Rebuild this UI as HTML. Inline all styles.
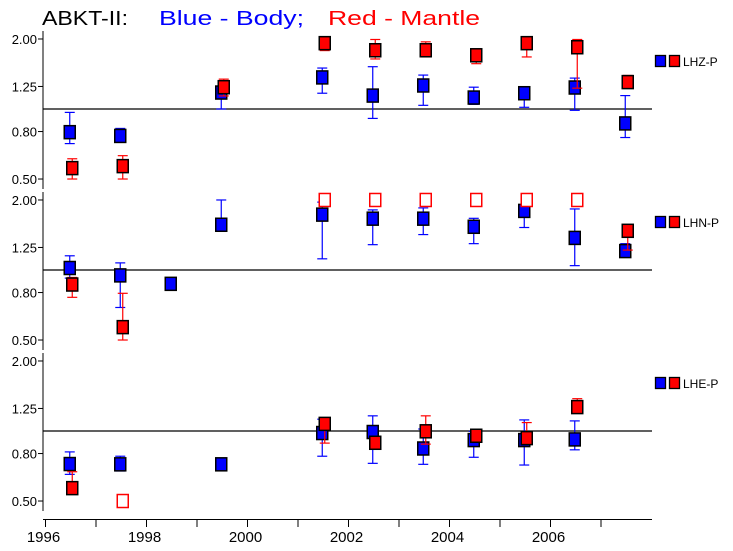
<!DOCTYPE html>
<html><head><meta charset="utf-8"><style>
body{margin:0;background:#fff;}
svg{display:block;font-family:"Liberation Sans",sans-serif;}
</style></head><body>
<svg id="chart" width="733" height="551" viewBox="0 0 733 551">
<g font-size="20">
<text x="42" y="25" fill="#000" textLength="86" lengthAdjust="spacingAndGlyphs">ABKT-II:</text>
<text x="159" y="25" fill="#0000ff" textLength="145" lengthAdjust="spacingAndGlyphs">Blue - Body;</text>
<text x="328" y="25" fill="#ff0000" textLength="152" lengthAdjust="spacingAndGlyphs">Red - Mantle</text>
</g>
<g id="plot"></g>
</svg>
<script>
const years=[1996.5,1997.5,1998.5,1999.5,2001.5,2002.5,2003.5,2004.5,2005.5,2006.5,2007.5];
const panelNames=["LHZ-P","LHN-P","LHE-P"];
const yTicks=[0.5,0.8,1.25,2.0];
const yTickLabels=["0.50","0.80","1.25","2.00"];
const xTicks=[1996,1997,1998,1999,2000,2001,2002,2003,2004,2005,2006,2007];
const xTickLabels=["1996","","1998","","2000","","2002","","2004","","2006",""];
// panel 1 LHZ-P
const zBlue=[0.795,0.766,null,1.177,1.367,1.142,1.262,1.12,1.169,1.237,0.867];
const zBlueLo=[0.71,0.734,null,1.0,1.169,0.911,1.037,1.047,1.017,0.987,0.754];
const zBlueHi=[0.967,0.825,null,1.241,1.5,1.52,1.399,1.241,1.229,1.358,1.142];
const zRed=[0.557,0.568,null,1.241,1.919,1.789,1.789,1.702,1.919,1.843,1.305];
const zRedLo=[0.5,0.5,null,1.138,1.783,1.641,1.674,1.566,1.674,1.229,1.241];
const zRedHi=[0.611,0.63,null,1.344,2.0,1.99,1.944,1.771,2.0,1.99,1.394];
const zRedOpen=[0,0,0,0,0,0,0,0,0,0,0];
// panel 2 LHN-P
const nBlue=[1.02,0.948,0.872,1.565,1.73,1.662,1.662,1.534,1.795,1.374,1.206];
const nBlueLo=[0.923,0.69,0.818,1.479,1.117,1.285,1.42,1.298,1.523,1.044,1.162];
const nBlueHi=[1.151,1.073,0.911,2.0,1.958,1.813,1.849,1.668,1.83,1.83,1.298];
const nRed=[0.866,0.568,null,null,2.0,2.0,2.0,2.0,2.0,2.0,1.474];
const nRedLo=[0.763,0.5,null,null,2.0,2.0,2.0,2.0,2.0,2.0,1.218];
const nRedHi=[0.929,0.794,null,null,2.0,2.0,2.0,2.0,2.0,2.0,1.539];
const nRedOpen=[0,0,0,0,1,1,1,1,1,1,0];
// panel 3 LHE-P
const eBlue=[0.721,0.719,null,0.719,0.98,0.99,0.841,0.914,0.914,0.92,null];
const eBlueLo=[0.651,0.673,null,0.686,0.779,0.726,0.719,0.771,0.714,0.83,null];
const eBlueHi=[0.813,0.779,null,0.756,1.124,1.162,1.02,0.997,1.116,1.105,null];
const eRed=[0.568,0.5,null,null,1.073,0.89,0.997,0.954,0.932,1.267,null];
const eRedLo=[0.568,0.5,null,null,0.887,0.89,0.878,0.92,0.89,1.267,null];
const eRedHi=[0.668,0.5,null,null,1.087,0.89,1.162,1.017,1.087,1.377,null];
const eRedOpen=[0,1,0,0,0,0,0,0,0,0,0];

const panels=[
 {mid:109,blue:zBlue,bLo:zBlueLo,bHi:zBlueHi,red:zRed,rLo:zRedLo,rHi:zRedHi,open:zRedOpen},
 {mid:270,blue:nBlue,bLo:nBlueLo,bHi:nBlueHi,red:nRed,rLo:nRedLo,rHi:nRedHi,open:nRedOpen},
 {mid:431,blue:eBlue,bLo:eBlueLo,bHi:eBlueHi,red:eRed,rLo:eRedLo,rHi:eRedHi,open:eRedOpen}
];
const NS="http://www.w3.org/2000/svg";
const g=document.getElementById("plot");
const X0=45.5,XS=50.5,XL=43,XR=652;
function xs(t){return X0+(t-1996)*XS;}
function mk(tag,attrs,parent){const e=document.createElementNS(NS,tag);for(const k in attrs)e.setAttribute(k,attrs[k]);(parent||g).appendChild(e);return e;}

panels.forEach((p,pi)=>{
 const ys=v=>p.mid-232.6*Math.log10(v);
 const ax=mk("line",{x1:XL,x2:XL,y1:ys(2.0)-8,y2:ys(0.5)+10,stroke:"#000","stroke-width":1});
 
 
 yTicks.forEach((v,i)=>{
  const y=ys(v);
  const t=mk("line",{x1:XL-5,x2:XL,y1:y,y2:y,stroke:"#000"});
  
  
  const l=mk("text",{x:XL-6,y:y+5,"text-anchor":"end","font-size":13,fill:"#000"});
  l.textContent=yTickLabels[i];
  
  
 });
 const ref=mk("line",{x1:XL,x2:XR,y1:ys(1),y2:ys(1),stroke:"#000","stroke-width":1.2});
 
 
 function series(vals,lo,hi,col,dx,open,name){
  years.forEach((yr,i)=>{
   if(vals[i]==null)return;
   const x=xs(yr)+dx, y=ys(vals[i]), y1=ys(hi[i]), y2=ys(lo[i]);
   const eb=mk("g",{});
   
   
   mk("line",{x1:x,x2:x,y1:y1,y2:y2,stroke:col,"stroke-width":1.2},eb);
   mk("line",{x1:x-5,x2:x+5,y1:y1,y2:y1,stroke:col,"stroke-width":1.2},eb);
   mk("line",{x1:x-5,x2:x+5,y1:y2,y2:y2,stroke:col,"stroke-width":1.2},eb);
   const isOpen=open&&open[i];
   const r=mk("rect",{x:x-5.5,y:y-6.5,width:11,height:13,fill:isOpen?"#fff":col,stroke:isOpen?col:"#000","stroke-width":1.5});
   
   
  });
 }
 series(p.blue,p.bLo,p.bHi,"#0000ff",-1,null,"body");
 series(p.red,p.rLo,p.rHi,"#ff0000",1.5,p.open,"mantle");
 const ly=p.mid-48;
 const lg=mk("g",{});
 
 
 mk("rect",{x:655.5,y:ly-5.5,width:10,height:11,fill:"#0000ff",stroke:"#000","stroke-width":1.3},lg);
 mk("rect",{x:669.5,y:ly-5.5,width:10,height:11,fill:"#ff0000",stroke:"#000","stroke-width":1.3},lg);
 const lt=mk("text",{x:683,y:ly+5,"font-size":12,fill:"#000"},lg);
 lt.textContent=panelNames[pi];
});
const xa=mk("line",{x1:XL,x2:XR,y1:519.5,y2:519.5,stroke:"#000"});


xTicks.forEach((t,i)=>{
 const x=xs(t);
 const tk=mk("line",{x1:x,x2:x,y1:519,y2:527,stroke:"#000"});
 
 
 if(xTickLabels[i]){
  const l=mk("text",{x:x-2,y:542,"text-anchor":"middle","font-size":15,fill:"#000"});
  l.textContent=xTickLabels[i];
  
  
 }
});
</script>
</body></html>
